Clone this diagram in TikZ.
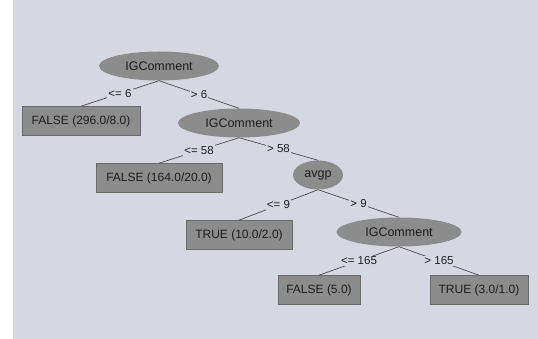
\documentclass[tikz,border=0pt]{standalone}
\usepackage{fontspec}
\setmainfont{Liberation Sans}
\usetikzlibrary{shapes.geometric}
\definecolor{bg}{HTML}{D5D8E0}
\definecolor{nodefill}{HTML}{8C8C8C}
\definecolor{nodeline}{HTML}{6A6A6A}
\definecolor{txt}{HTML}{1E1E1E}
\tikzset{
  inner/.style={ellipse, fill=nodefill, draw=none, minimum height=29pt, inner sep=0pt, font=\fontsize{12.5}{14}\selectfont, text=txt},
  leaf/.style={rectangle, fill=nodefill, draw=nodeline, line width=0.6pt, minimum height=29pt, inner sep=0pt, font=\fontsize{12}{14}\selectfont, text=txt},
  elab/.style={fill=bg, inner sep=1pt, font=\fontsize{11.5}{13}\selectfont, text=txt},
  edge/.style={draw=txt!80, line width=0.7pt}
}
\begin{document}
\begin{tikzpicture}[x=1pt,y=-1pt]
\useasboundingbox (0,0) rectangle (538,339);
\fill[white] (0,0) rectangle (538,339);
\fill[bg] (13,0) rectangle (538,339);
% nodes
\node[inner, minimum width=120pt] (r) at (159,66) {IGComment};
\node[leaf, minimum width=118pt] (f1) at (81,121) {FALSE (296.0/8.0)};
\node[inner, minimum width=122pt] (n2) at (239,123) {IGComment};
\node[leaf, minimum width=126pt] (f2) at (159,178) {FALSE (164.0/20.0)};
\node[inner, minimum width=50pt] (n3) at (318,175) {avgp};
\node[leaf, minimum width=106pt] (t1) at (239,235) {TRUE (10.0/2.0)};
\node[inner, minimum width=125pt] (n4) at (399,232) {IGComment};
\node[leaf, minimum width=82pt] (f3) at (319,290) {FALSE (5.0)};
\node[leaf, minimum width=98pt] (t2) at (479,290) {TRUE (3.0/1.0)};
% edges with labels
\path[edge] (r.south) -- (f1.north) node[midway, elab] (l1) {<= 6};
\path[edge] (r.south) -- (n2.north) node[midway, elab] (l2) {> 6};
\path[edge] (n2.south) -- (f2.north) node[midway, elab] (l3) {<= 58};
\path[edge] (n2.south) -- (n3.north) node[midway, elab] (l4) {> 58};
\path[edge] (n3.south) -- (t1.north) node[midway, elab] (l5) {<= 9};
\path[edge] (n3.south) -- (n4.north) node[midway, elab] (l6) {> 9};
\path[edge] (n4.south) -- (f3.north) node[midway, elab] (l7) {<= 165};
\path[edge] (n4.south) -- (t2.north) node[midway, elab] (l8) {> 165};
\end{tikzpicture}
\end{document}
